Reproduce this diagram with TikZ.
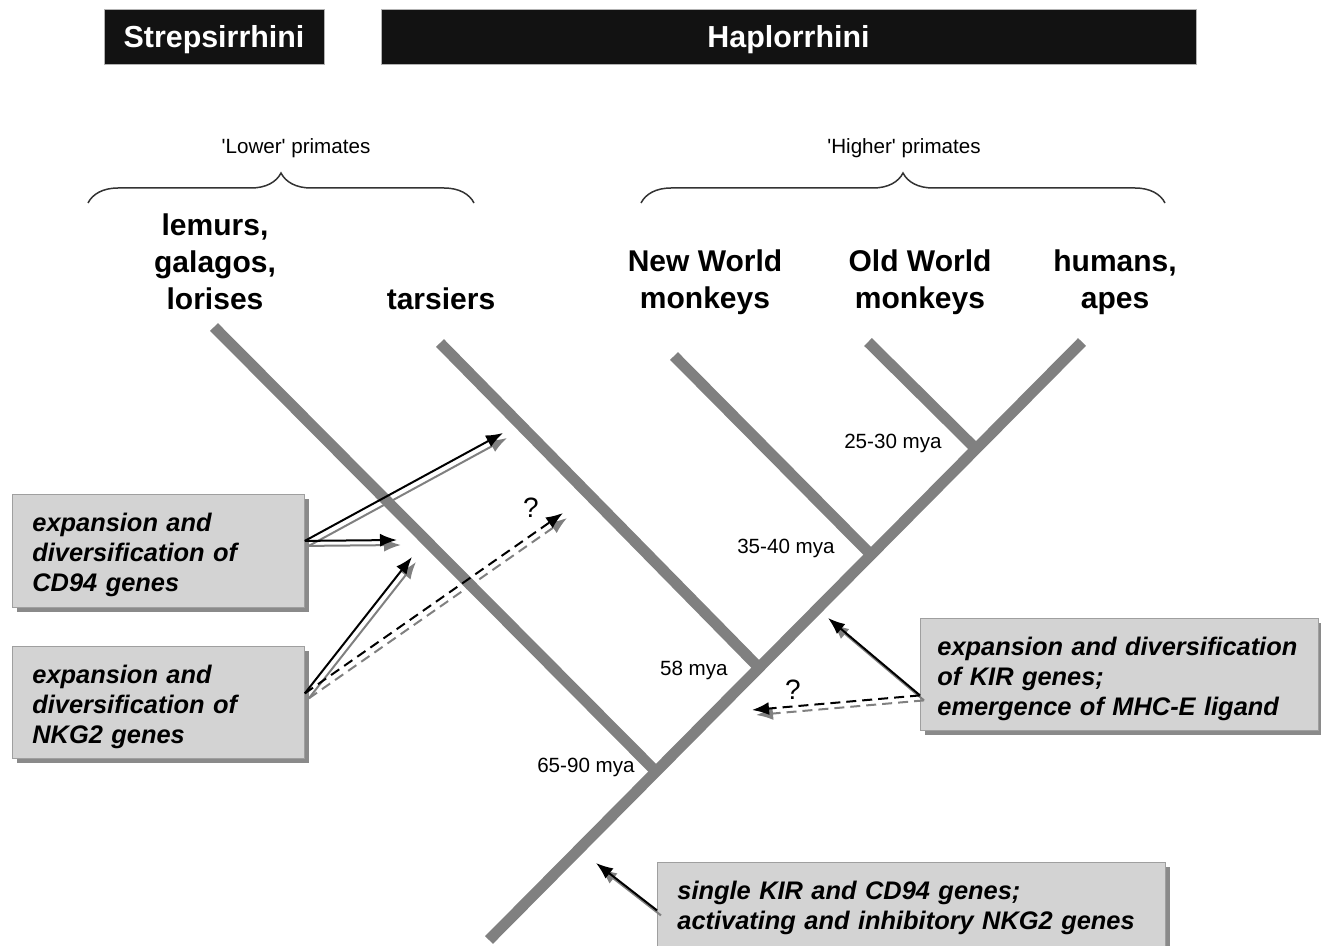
\documentclass[tikz,border=0pt]{standalone}
\usepackage{fontspec}
\setmainfont{Liberation Sans}
\usetikzlibrary{calc,arrows.meta,shadows,decorations.pathreplacing}
\definecolor{branchgray}{HTML}{808080}
\definecolor{boxgray}{HTML}{D3D3D3}
\definecolor{shadegray}{HTML}{8A8A8A}
\newcommand{\firstline}{\rule{0pt}{13.5pt}}
\tikzset{
  branch/.style={draw=branchgray, line width=5.5pt},
  clade/.style={fill=black!93, draw=gray!60, text=white, inner sep=0pt, minimum height=27.5pt,
    text height=11pt, text depth=0pt, font=\bfseries\fontsize{15.2}{18}\selectfont},
  taxon/.style={align=center, font=\bfseries\fontsize{15}{18.5}\selectfont},
  grade/.style={font=\fontsize{10.3}{12}\selectfont},
  mya/.style={anchor=east, inner sep=0pt, font=\fontsize{10.3}{12}\selectfont},
  qmark/.style={inner sep=0pt, font=\fontsize{14}{16}\selectfont},
  genebox/.style={anchor=north west, draw=gray!75, fill=boxgray, align=left, inner xsep=10pt,
    font=\bfseries\itshape\fontsize{12.7}{15}\selectfont,
    drop shadow={shadow xshift=2.5pt, shadow yshift=-2.5pt, fill=shadegray, opacity=1}},
  brace/.style={decorate, decoration={brace, amplitude=15pt}, draw=black!80, line width=0.75pt},
  evo/.style={-{Latex[length=8.5pt,width=6.5pt]}, line width=1pt, draw=black},
  evoshade/.style={evo, draw=gray, transform canvas={xshift=2pt, yshift=-2.5pt}},
  doubt/.style={dash pattern=on 5pt off 3pt}
}
\begin{document}
\begin{tikzpicture}[x=0.5pt, y=-0.5pt]
  \useasboundingbox (0,0) rectangle (1321,946);

  \node[clade, minimum width=110pt] (strep) at (214,36.5) {Strepsirrhini};
  \node[clade, minimum width=407.5pt] (haplo) at (788.5,36.5) {Haplorrhini};

  \coordinate (lowL) at (88,203);
  \coordinate (lowR) at (474,203);
  \coordinate (highL) at (641,203);
  \coordinate (highR) at (1165,203);
  \draw[brace] (lowL) -- (lowR);
  \draw[brace] (highL) -- (highR);
  \node[grade] (lower) at (296,148) {\textquotesingle Lower\textquotesingle{} primates};
  \node[grade] (higher) at (904,148) {\textquotesingle Higher\textquotesingle{} primates};

  \node[taxon] (lemurs) at (215,262) {lemurs,\\galagos,\\lorises};
  \node[taxon] (tarsiers) at (441,299) {tarsiers};
  \node[taxon] (nwm) at (705,282) {New World\\monkeys};
  \node[taxon] (owm) at (920,282) {Old World\\monkeys};
  \node[taxon] (apes) at (1115,282) {humans,\\apes};

  \coordinate (root) at (489,940);
  \coordinate (top) at (1082,342);
  \coordinate (n1) at ($(root)!0.2816!(top)$);
  \coordinate (n2) at ($(root)!0.4553!(top)$);
  \coordinate (n3) at ($(root)!0.6442!(top)$);
  \coordinate (n4) at ($(root)!0.8212!(top)$);
  \coordinate (lemurtip) at (214,327);
  \coordinate (tarstip) at (440,343);
  \coordinate (nwmtip) at (674,356);
  \coordinate (owmtip) at (868,342);
  \draw[branch] (root) -- (top);
  \draw[branch] (lemurtip) -- (n1);
  \draw[branch] (tarstip) -- (n2);
  \draw[branch] (nwmtip) -- (n3);
  \draw[branch] (owmtip) -- (n4);

  \node[mya] (mya1) at (635,767) {65-90 mya};
  \node[mya] (mya2) at (728,670) {58 mya};
  \node[mya] (mya3) at (835,548) {35-40 mya};
  \node[mya] (mya4) at (942,443) {25-30 mya};

  \node[genebox, text width=126pt, minimum height=56.5pt] (cd94) at (12,494)
    {\firstline expansion and\\diversification of\\CD94 genes};
  \node[genebox, text width=126pt, minimum height=56pt] (nkg2) at (12,646)
    {\firstline expansion and\\diversification of\\NKG2 genes};
  \node[genebox, inner xsep=8.5pt, text width=182pt, minimum height=56pt] (kir) at (920,618)
    {\firstline expansion and diversification\\of KIR genes;\\emergence of MHC-E ligand};
  \node[genebox, text width=234pt, minimum height=46pt] (single) at (657,862)
    {single KIR and CD94 genes;\\activating and inhibitory NKG2 genes};

  \coordinate (cdS) at ([yshift=5pt]cd94.east);
  \coordinate (nkS) at ([yshift=4.5pt]nkg2.east);
  \coordinate (kirS) at ([yshift=-10.5pt]kir.west);
  \coordinate (singleS) at ([yshift=-1pt]single.west);
  \coordinate (cdA) at (503,433);
  \coordinate (cdB) at (397,540);
  \coordinate (nkA) at (412,557);
  \coordinate (nkB) at (563,513);
  \coordinate (kirA) at (828,618);
  \coordinate (kirB) at (752,710);
  \coordinate (singleA) at (596,863);

  \draw[evoshade] (cdS) -- (cdA);
  \draw[evo] (cdS) -- (cdA);
  \draw[evoshade] (cdS) -- (cdB);
  \draw[evo] (cdS) -- (cdB);
  \draw[evoshade] (nkS) -- (nkA);
  \draw[evo] (nkS) -- (nkA);
  \draw[evoshade, doubt] (nkS) -- (nkB);
  \draw[evo, doubt] (nkS) -- (nkB);
  \draw[evoshade] (kirS) -- (kirA);
  \draw[evo] (kirS) -- (kirA);
  \draw[evoshade, doubt] (kirS) -- (kirB);
  \draw[evo, doubt] (kirS) -- (kirB);
  \draw[evoshade] (singleS) -- (singleA);
  \draw[evo] (singleS) -- (singleA);

  \node[qmark] (q1) at (531,508) {?};
  \node[qmark] (q2) at (793,690) {?};
\end{tikzpicture}
\end{document}
